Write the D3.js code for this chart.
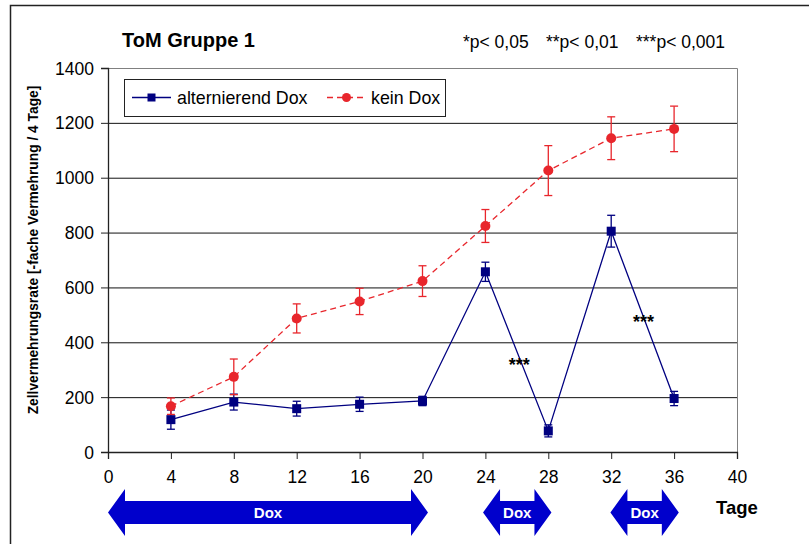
<!DOCTYPE html>
<html>
<head>
<meta charset="utf-8">
<script src="https://cdn.jsdelivr.net/npm/d3@7"></script>
<style>
  body { margin: 0; background: #fff; }
  svg text { font-family: "Liberation Sans", Arial, sans-serif; }
</style>
</head>
<body>
<div id="graf"></div>
<script>
// Daten
const tage = [4, 8, 12, 16, 20, 24, 28, 32, 36]
const alternierendDox = [118, 182, 158, 174, 186, 657, 77, 805, 195]
const alternierendFehler = [35, 29, 27, 26, 17, 35, 22, 58, 26]
const keinDox = [167, 274, 487, 549, 623, 824, 1026, 1144, 1178]
const keinFehler = [30, 65, 53, 48, 56, 60, 91, 78, 83]
const yTicks = [0, 200, 400, 600, 800, 1000, 1200, 1400]
const xTicks = [0, 4, 8, 12, 16, 20, 24, 28, 32, 36, 40]
const doxPhasen = [[0, 20.35], [23.85, 28.2], [31.95, 36.3]]
const signifikanz = [{ tag: 26.15, wert: 346, text: "***" }, { tag: 34.05, wert: 500, text: "***" }]
const pWerte = ["*p< 0,05", "**p< 0,01", "***p< 0,001"]

const draw = () => {
  const anchoTotal = 809
  const altoTotal = 544
  const margins = { top: 68, right: 72, bottom: 92, left: 108 }
  const ancho = 737 - margins.left
  const alto = 452 - margins.top

  const azul = "#000080"
  const rojo = "#E8262C"
  const flecha = "#0000CC"

  const svg = d3.select("#graf")
    .append("svg")
    .attr("width", anchoTotal)
    .attr("height", altoTotal)

  // Rahmen
  svg.append("rect")
    .attr("x", 10.5).attr("y", 5.5)
    .attr("width", anchoTotal + 20).attr("height", altoTotal + 20)
    .attr("fill", "none").attr("stroke", "#222").attr("stroke-width", 1.5)

  const x = d3.scaleLinear().domain([0, 40]).range([0, ancho])
  const y = d3.scaleLinear().domain([0, 1400]).range([alto, 0])

  const chart = svg.append("g")
    .attr("transform", `translate(${margins.left}, ${margins.top})`)

  // Gitter
  chart.append("g")
    .selectAll("line")
    .data(yTicks.filter((d) => d > 0 && d < 1400))
    .join("line")
    .attr("x1", 0).attr("x2", ancho)
    .attr("y1", (d) => y(d) + 0.5).attr("y2", (d) => y(d) + 0.5)
    .attr("stroke", "#111").attr("stroke-width", 1)

  // Rahmen oben / rechts
  chart.append("path")
    .attr("d", `M0,0.5H${ancho + 0.5}V${alto}`)
    .attr("fill", "none").attr("stroke", "#808080")

  // Achsen
  const yAxis = d3.axisLeft(y).tickValues(yTicks).tickFormat(d3.format("d")).tickSize(7).tickPadding(7)
  const xAxis = d3.axisBottom(x).tickValues(xTicks).tickFormat(d3.format("d")).tickSize(7).tickPadding(12)

  const yAxisGroup = chart.append("g").call(yAxis)
  const xAxisGroup = chart.append("g").attr("transform", `translate(0, ${alto})`).call(xAxis)

  ;[yAxisGroup, xAxisGroup].forEach((g) => {
    g.select(".domain").attr("stroke", "#222").attr("stroke-width", 1.3)
    g.selectAll(".tick line").attr("stroke", "#222")
    g.selectAll(".tick text")
      .attr("fill", "#000")
      .style("font-size", "17.5px")
      .style("font-family", "'Liberation Sans', Arial, sans-serif")
  })
  yAxisGroup.selectAll(".tick text").attr("dy", "0.35em")

  // Linien
  const serien = [
    { name: "alternierend Dox", werte: alternierendDox, fehler: alternierendFehler, farbe: azul, dash: null, marker: "square" },
    { name: "kein Dox", werte: keinDox, fehler: keinFehler, farbe: rojo, dash: "6,4", marker: "circle" }
  ]

  const line = d3.line()
    .x((d) => x(d.tag))
    .y((d) => y(d.wert))

  serien.forEach((s) => {
    const punkte = tage.map((t, i) => ({ tag: t, wert: s.werte[i], fehler: s.fehler[i] }))
    const g = chart.append("g")

    g.append("path")
      .attr("d", line(punkte))
      .attr("fill", "none")
      .attr("stroke", s.farbe)
      .attr("stroke-width", 1.3)
      .attr("stroke-dasharray", s.dash)

    const eb = g.selectAll(".eb").data(punkte).join("g")
    eb.append("line")
      .attr("x1", (d) => x(d.tag)).attr("x2", (d) => x(d.tag))
      .attr("y1", (d) => y(d.wert - d.fehler)).attr("y2", (d) => y(d.wert + d.fehler))
      .attr("stroke", s.farbe).attr("stroke-width", 1.3)
    eb.selectAll(".cap")
      .data((d) => [d.wert - d.fehler, d.wert + d.fehler])
      .join("line")
      .attr("x1", function () { return x(d3.select(this.parentNode).datum().tag) - 4 })
      .attr("x2", function () { return x(d3.select(this.parentNode).datum().tag) + 4 })
      .attr("y1", (v) => y(v)).attr("y2", (v) => y(v))
      .attr("stroke", s.farbe).attr("stroke-width", 1.3)

    if (s.marker === "square") {
      g.selectAll("rect.m").data(punkte).join("rect")
        .attr("x", (d) => x(d.tag) - 4.5).attr("y", (d) => y(d.wert) - 4.5)
        .attr("width", 9).attr("height", 9)
        .attr("fill", s.farbe)
    } else {
      g.selectAll("circle.m").data(punkte).join("circle")
        .attr("cx", (d) => x(d.tag)).attr("cy", (d) => y(d.wert))
        .attr("r", 5)
        .attr("fill", s.farbe)
    }
  })

  // Signifikanz
  chart.append("g")
    .selectAll("text")
    .data(signifikanz)
    .join("text")
    .attr("x", (d) => x(d.tag))
    .attr("y", (d) => y(d.wert))
    .attr("text-anchor", "middle")
    .attr("dy", "0.75em")
    .style("font-size", "18px")
    .style("font-weight", "bold")
    .text((d) => d.text)

  // Legende
  const leg = svg.append("g").attr("transform", "translate(124.5, 79.5)")
  leg.append("rect")
    .attr("width", 321).attr("height", 37)
    .attr("fill", "#fff").attr("stroke", "#222")
  const legPos = [{ x: 7.5, tx: 52.5 }, { x: 202.5, tx: 246.5 }]
  serien.forEach((s, i) => {
    const p = legPos[i]
    leg.append("line")
      .attr("x1", p.x).attr("x2", p.x + 39)
      .attr("y1", 18).attr("y2", 18)
      .attr("stroke", s.farbe).attr("stroke-width", 1.3)
      .attr("stroke-dasharray", s.dash ? "6,4" : null)
    if (s.marker === "square") {
      leg.append("rect").attr("x", p.x + 15.5).attr("y", 14).attr("width", 8).attr("height", 8).attr("fill", s.farbe)
    } else {
      leg.append("circle").attr("cx", p.x + 19.5).attr("cy", 18).attr("r", 4.5).attr("fill", s.farbe)
    }
    leg.append("text")
      .attr("x", p.tx).attr("y", 18).attr("dy", "0.35em")
      .style("font-size", "17.8px")
      .text(s.name)
  })

  // Titel
  svg.append("text")
    .attr("x", 122).attr("y", 47)
    .style("font-size", "20px").style("font-weight", "bold")
    .text("ToM Gruppe 1")

  const pX = [463, 546, 636]
  svg.append("g")
    .selectAll("text")
    .data(pWerte)
    .join("text")
    .attr("x", (d, i) => pX[i]).attr("y", 48)
    .style("font-size", "17.5px")
    .text((d) => d)

  // Y-Achsentitel
  svg.append("text")
    .attr("transform", "translate(38, 250) rotate(-90)")
    .attr("text-anchor", "middle")
    .style("font-size", "13.8px").style("font-weight", "bold")
    .text("Zellvermehrungsrate [-fache Vermehrung / 4 Tage]")

  // X-Achsentitel
  svg.append("text")
    .attr("x", 737).attr("y", 508).attr("dy", "0.35em")
    .attr("text-anchor", "middle")
    .style("font-size", "18.5px").style("font-weight", "bold")
    .text("Tage")

  // Dox-Pfeile
  const cy = 512.5
  const pfeile = svg.append("g")
  doxPhasen.forEach(([a, b]) => {
    const x0 = margins.left + x(a)
    const x1 = margins.left + x(b)
    const kopf = 17
    const hh = 23.5
    const sh = 11.5
    pfeile.append("path")
      .attr("d", `M${x0},${cy} L${x0 + kopf},${cy - hh} L${x0 + kopf},${cy - sh} L${x1 - kopf},${cy - sh} L${x1 - kopf},${cy - hh} L${x1},${cy} L${x1 - kopf},${cy + hh} L${x1 - kopf},${cy + sh} L${x0 + kopf},${cy + sh} L${x0 + kopf},${cy + hh} Z`)
      .attr("fill", flecha)
    pfeile.append("text")
      .attr("x", (x0 + x1) / 2).attr("y", cy).attr("dy", "0.35em")
      .attr("text-anchor", "middle")
      .attr("fill", "#fff")
      .style("font-size", "15px").style("font-weight", "bold")
      .text("Dox")
  })
}

draw()
</script>
</body>
</html>
